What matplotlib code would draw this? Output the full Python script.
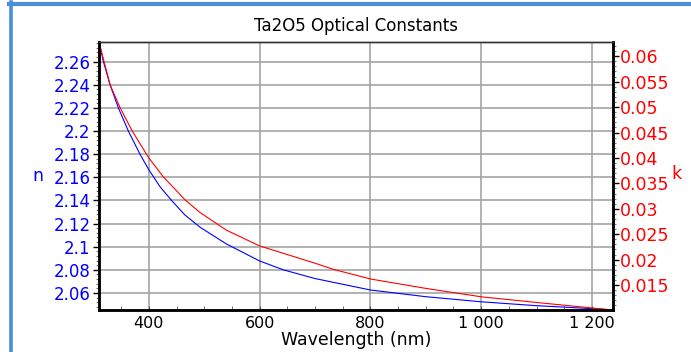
import matplotlib
matplotlib.use("Agg")
import matplotlib.pyplot as plt
from matplotlib.ticker import AutoMinorLocator, MultipleLocator
from matplotlib.lines import Line2D

# refractive index n (left axis)
wl_n = [310, 318, 330, 345, 363, 384, 400, 420, 441, 465, 492, 540, 600,
        643, 700, 800, 900, 1000, 1098, 1200, 1238]
n_vals = [2.277, 2.260, 2.240, 2.220, 2.200, 2.180, 2.1665, 2.152, 2.140,
          2.1275, 2.117, 2.1024, 2.0877, 2.080, 2.0725, 2.0626, 2.0568,
          2.0524, 2.0491, 2.0465, 2.0453]

# extinction coefficient k (right axis)
wl_k = [310, 319, 330, 348, 370, 396, 400, 426, 465, 492, 540, 600, 700,
        733, 800, 900, 1000, 1098, 1200, 1238]
k_vals = [0.0628, 0.0590, 0.0544, 0.0499, 0.0453, 0.0407, 0.0400, 0.0363,
          0.0318, 0.0293, 0.0258, 0.0227, 0.0193, 0.0181, 0.0162, 0.01435,
          0.0127, 0.0116, 0.0105, 0.0101]

x_ticks = [400, 600, 800, 1000, 1200]
x_labels = ["400", "600", "800", "1 000", "1 200"]

plt.rcParams["font.family"] = "DejaVu Sans"

fig = plt.figure(figsize=(6.91, 3.52), dpi=100)
ax = fig.add_axes([99 / 691, 1 - 310 / 352, 514 / 691, 268 / 352])
ax2 = ax.twinx()

ax.plot(wl_n, n_vals, color="#0000ff", lw=0.8)
ax2.plot(wl_k, k_vals, color="#ff0000", lw=0.8)

ax.margins(0)
ax2.margins(0)

ax.set_xticks(x_ticks)
ax.set_xticklabels(x_labels)
ax.xaxis.set_minor_locator(MultipleLocator(50))
ax.yaxis.set_major_locator(MultipleLocator(0.02))
ax.yaxis.set_minor_locator(AutoMinorLocator(5))
ax.yaxis.set_major_formatter(lambda v, p: f"{v:.2f}".rstrip("0").rstrip("."))
ax2.yaxis.set_major_locator(MultipleLocator(0.005))
ax2.yaxis.set_minor_locator(AutoMinorLocator(5))
ax2.yaxis.set_major_formatter(lambda v, p: f"{v:.3f}".rstrip("0"))

ax.grid(True, which="major", color="#a4a4a4", lw=1.2)
ax.set_axisbelow(True)

ax.tick_params(axis="x", which="both", direction="in", length=3, labelsize=11.5,
               color="#555555", pad=4)
ax.tick_params(axis="y", which="major", length=4, width=1, labelsize=12,
               labelcolor="#0000ff", pad=2)
ax.tick_params(axis="y", which="minor", length=2.5, width=0.8, color="#777777")
ax2.tick_params(axis="y", which="major", length=4, width=1, labelsize=12.5,
                labelcolor="#ff0000", pad=1)
ax2.tick_params(axis="y", which="minor", length=2.5, width=0.8, color="#777777")

for a in (ax, ax2):
    for side in ("left", "bottom", "right"):
        a.spines[side].set_linewidth(1.8)
        a.spines[side].set_color("black")
    a.spines["top"].set_linewidth(1.0)
    a.spines["top"].set_color("#333333")

ax.set_title("Ta2O5 Optical Constants", fontsize=12, pad=8)
ax.set_xlabel("Wavelength (nm)", fontsize=12.5, labelpad=0)
fig.text(38 / 691, 1 - 176 / 352, "n", color="#0000ff", fontsize=12.5,
         ha="center", va="center")
fig.text(676 / 691, 1 - 174 / 352, "k", color="#ff0000", fontsize=12.5,
         ha="center", va="center")

# blue frame edges
fig.add_artist(Line2D([9 / 691, 1], [1 - 3.5 / 352] * 2, color="#4a8fd8",
                      lw=3, transform=fig.transFigure))
fig.add_artist(Line2D([10.7 / 691] * 2, [0, 1 - 2 / 352], color="#4a8fd8",
                      lw=2.6, transform=fig.transFigure))

fig.savefig("out.png", dpi=100)
